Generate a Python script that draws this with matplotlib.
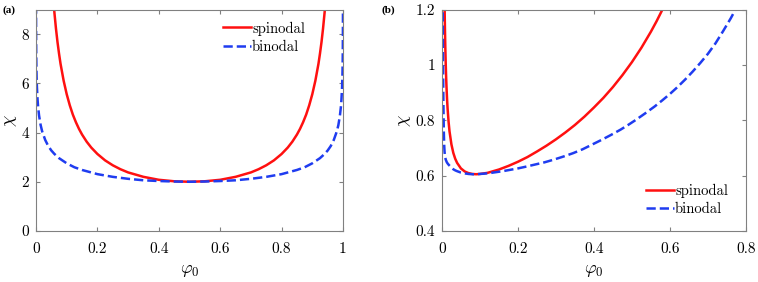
import matplotlib
matplotlib.use("Agg")
import matplotlib.pyplot as plt

plt.rcParams['font.family'] = ['cmr10', 'DejaVu Serif']
plt.rcParams['mathtext.fontset'] = 'cm'
plt.rcParams['axes.formatter.use_mathtext'] = True

# (a) symmetric blend
phi_sp_a = [0.055, 0.06, 0.065, 0.07, 0.075, 0.08, 0.09, 0.1, 0.11, 0.12, 0.13, 0.14, 0.15,
            0.165, 0.18, 0.2, 0.225, 0.25, 0.275, 0.3, 0.35, 0.4, 0.45, 0.5,
            0.55, 0.6, 0.65, 0.7, 0.725, 0.75, 0.775, 0.8, 0.82, 0.835, 0.85, 0.86, 0.87,
            0.88, 0.89, 0.9, 0.91, 0.92, 0.925, 0.93, 0.935, 0.94, 0.945]
chi_sp_a = [9.62, 8.87, 8.23, 7.68, 7.21, 6.79, 6.11, 5.56, 5.11, 4.73, 4.42, 4.15, 3.92,
            3.63, 3.39, 3.13, 2.87, 2.67, 2.51, 2.38, 2.20, 2.08, 2.02, 2.0,
            2.02, 2.08, 2.20, 2.38, 2.51, 2.67, 2.87, 3.13, 3.39, 3.63, 3.92, 4.15, 4.42,
            4.73, 5.11, 5.56, 6.11, 6.79, 7.21, 7.68, 8.23, 8.87, 9.62]
phi_bi_a = [0.0001, 0.00015, 0.0002, 0.0003, 0.0005, 0.0007, 0.001, 0.0015, 0.002, 0.003,
            0.005, 0.007, 0.01, 0.015, 0.02, 0.03, 0.04, 0.05, 0.06, 0.075, 0.1, 0.125,
            0.15, 0.2, 0.25, 0.3, 0.35, 0.4, 0.45, 0.5, 0.55, 0.6, 0.65, 0.7, 0.75, 0.8,
            0.85, 0.875, 0.9, 0.925, 0.94, 0.95, 0.96, 0.97, 0.98, 0.985, 0.99, 0.993,
            0.995, 0.997, 0.998, 0.9985, 0.999, 0.9993, 0.9995, 0.9997, 0.9998, 0.99985, 0.9999]
chi_bi_a = [9.21, 8.81, 8.52, 8.12, 7.61, 7.27, 6.92, 6.52, 6.24, 5.84,
            5.35, 5.03, 4.69, 4.31, 4.05, 3.70, 3.45, 3.27, 3.13, 2.96, 2.75, 2.59,
            2.48, 2.31, 2.20, 2.12, 2.06, 2.03, 2.01, 2.0, 2.01, 2.03, 2.06, 2.12, 2.20, 2.31,
            2.48, 2.59, 2.75, 2.96, 3.13, 3.27, 3.45, 3.70, 4.05, 4.31, 4.69, 5.03,
            5.35, 5.84, 6.24, 6.52, 6.92, 7.27, 7.61, 8.12, 8.52, 8.81, 9.21]

# (b) polymer solution
phi_sp_b = [0.0065, 0.007, 0.0075, 0.008, 0.009, 0.01, 0.011, 0.012, 0.0135, 0.015, 0.0175,
            0.02, 0.025, 0.03, 0.035, 0.04, 0.05, 0.06, 0.07, 0.08, 0.09, 0.1, 0.12, 0.15,
            0.175, 0.2, 0.225, 0.25, 0.275, 0.3, 0.325, 0.35, 0.375, 0.4, 0.425, 0.45, 0.475,
            0.5, 0.525, 0.55, 0.565, 0.58, 0.59]
chi_sp_b = [1.272, 1.218, 1.170, 1.129, 1.060, 1.005, 0.960, 0.923, 0.877, 0.841, 0.795,
            0.760, 0.713, 0.682, 0.661, 0.646, 0.626, 0.615, 0.609, 0.606, 0.605, 0.606,
            0.610, 0.622, 0.635, 0.650, 0.667, 0.687, 0.708, 0.731, 0.756, 0.783, 0.813,
            0.846, 0.881, 0.920, 0.963, 1.010, 1.062, 1.120, 1.158, 1.199, 1.228]
phi_bi_b = [0.0015, 0.002, 0.0025, 0.003, 0.0035, 0.004, 0.005, 0.006, 0.007, 0.0085, 0.01,
            0.013, 0.016, 0.02, 0.025, 0.03, 0.035, 0.04, 0.05, 0.06, 0.07, 0.08, 0.09, 0.1,
            0.11, 0.125, 0.14, 0.16, 0.18, 0.2, 0.22, 0.245, 0.27, 0.295, 0.32, 0.345, 0.37,
            0.395, 0.42, 0.445, 0.47, 0.49, 0.51, 0.535, 0.56, 0.58, 0.6, 0.62, 0.64, 0.66,
            0.68, 0.7, 0.72, 0.74, 0.76, 0.775]
chi_bi_b = [1.25, 1.2, 1.1, 1.0, 0.92, 0.85, 0.76, 0.71, 0.685, 0.668, 0.658,
            0.648, 0.642, 0.636, 0.629, 0.623, 0.619, 0.616, 0.611, 0.608, 0.606, 0.605, 0.605,
            0.606, 0.607, 0.609, 0.612, 0.616, 0.621, 0.626, 0.632, 0.640, 0.648, 0.658,
            0.669, 0.681, 0.695, 0.712, 0.729, 0.747, 0.766, 0.783, 0.801, 0.825, 0.850,
            0.872, 0.895, 0.920, 0.947, 0.976, 1.007, 1.040, 1.078, 1.122, 1.168, 1.206]

red = '#ff1010'
blue = '#1f3cf0'
grey = '#808080'

fig = plt.figure(figsize=(7.58, 2.82), dpi=100)
axa = fig.add_axes([0.0475, 0.181, 0.405, 0.785])
axb = fig.add_axes([0.583, 0.181, 0.401, 0.785])


def style(ax):
    for s in ax.spines.values():
        s.set_color(grey)
        s.set_linewidth(0.8)
    ax.tick_params(direction='in', top=True, right=True, color=grey, length=3,
                   labelsize=11, pad=5)
    ax.tick_params(axis='x', pad=8)
    ax.xaxis.set_major_formatter('{x:g}')
    ax.yaxis.set_major_formatter('{x:g}')
    ax.set_xlabel(r'$\varphi_0$', fontsize=13, labelpad=5)
    ax.set_ylabel(r'$\chi$', fontsize=13, labelpad=2)


legend_kw = dict(frameon=False, fontsize=10.5, handlelength=1.9, handletextpad=0.1,
                 labelspacing=0.3, borderpad=0)

axa.plot(phi_sp_a, chi_sp_a, color=red, lw=1.8, label='spinodal')
axa.plot(phi_bi_a, chi_bi_a, color=blue, lw=1.8, ls='--', label='binodal')
axa.set_xlim(0, 1)
axa.set_ylim(0, 9)
axa.set_yticks([0, 2, 4, 6, 8])
style(axa)
axa.legend(loc='upper right', bbox_to_anchor=(0.9, 0.98), **legend_kw)

axb.plot(phi_sp_b, chi_sp_b, color=red, lw=1.8, label='spinodal')
axb.plot(phi_bi_b, chi_bi_b, color=blue, lw=1.8, ls='--', label='binodal')
axb.set_xlim(0, 0.8)
axb.set_ylim(0.4, 1.2)
axb.set_yticks([0.4, 0.6, 0.8, 1.0, 1.2])
style(axb)
axb.legend(loc='lower right', bbox_to_anchor=(0.965, 0.035), **legend_kw)

fig.text(0.003, 0.955, '(a)', fontsize=8, fontweight='bold', family='Liberation Serif')
fig.text(0.503, 0.955, '(b)', fontsize=8, fontweight='bold', family='Liberation Serif')

fig.savefig('out.png', dpi=100)
